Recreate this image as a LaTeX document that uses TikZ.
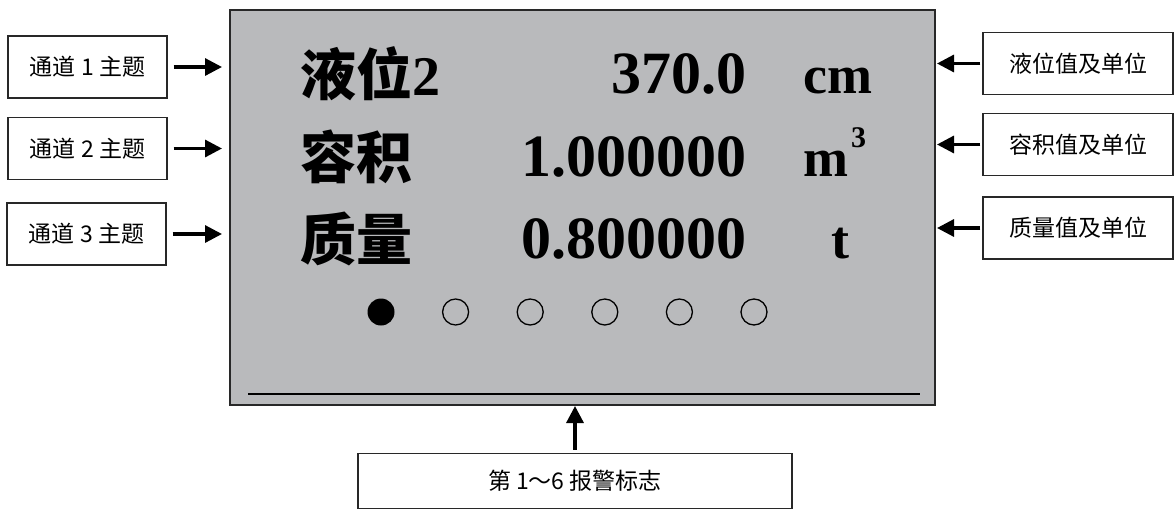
\documentclass[tikz,border=0pt]{standalone}
\usepackage{fontspec}
\setmainfont{Liberation Serif}
\newfontfamily\cjk{Noto Sans CJK SC}
\usepackage{tikz}
\usetikzlibrary{arrows.meta,positioning,calc}
\definecolor{lcdgray}{RGB}{185,186,188}
\definecolor{framegray}{RGB}{40,40,40}

\begin{document}
\begin{tikzpicture}[x=1pt, y=-1pt,
  tag/.style={draw=framegray, line width=1.4pt, fill=white, inner sep=0pt,
    minimum height=62pt, font=\cjk\fontsize{23pt}{23pt}\selectfont},
  pointer/.style={-{Triangle[length=17pt,width=17pt]}, line width=3.2pt},
  title/.style={anchor=base west, inner sep=0pt,
    font=\cjk\bfseries\fontsize{56pt}{56pt}\selectfont},
  value/.style={anchor=base east, inner sep=0pt,
    font=\bfseries\fontsize{60pt}{60pt}\selectfont},
  unit/.style={anchor=base west, inner sep=0pt,
    font=\bfseries\fontsize{54pt}{54pt}\selectfont}]
  \useasboundingbox (0,0) rectangle (1175,509);

  % LCD screen
  \node[draw=framegray, line width=2pt, fill=lcdgray, inner sep=0pt,
    minimum width=705pt, minimum height=395pt] (lcd) at (582.5,207.5) {};
  \draw[line width=2pt] (248,394) -- (920,394);

  % channel rows
  \node[title] (t1) at (300,95) {液位{\rmfamily 2}};
  \node[title] (t2) at (300,178) {容积};
  \node[title] (t3) at (300,260) {质量};
  \node[value] (v1) at (747,93) {370.0};
  \node[value] (v2) at (747,176) {1.000000};
  \node[value] (v3) at (747,258) {0.800000};
  \node[unit] (u1) at (803,93) {cm};
  \node[unit] (u2) at (803,176)
    {m\hspace{3pt}\raisebox{29pt}{\fontsize{30pt}{30pt}\selectfont 3}};
  \node[unit] (u3) at (831,258) {t};

  % alarm marks
  \fill (381,312) circle[radius=13.5pt];
  \foreach \i in {1,...,5}
    \draw[line width=1.3pt] (381+74.6*\i,312) circle[radius=13pt];

  % left labels
  \node[tag, minimum width=159pt] (l1) at (87.5,67) {通道 1 主题};
  \node[tag, minimum width=159pt] (l2) at (87.5,148.5) {通道 2 主题};
  \node[tag, minimum width=159pt] (l3) at (86.5,234) {通道 3 主题};

  % right labels
  \node[tag, minimum width=190pt] (r1) at (1078,63.5) {液位值及单位};
  \node[tag, minimum width=190pt] (r2) at (1078,144.5) {容积值及单位};
  \node[tag, minimum width=190pt] (r3) at (1078,228) {质量值及单位};

  % bottom label
  \node[tag, minimum width=434pt, minimum height=55pt] (b) at (575,481) {第 1～6 报警标志};

  % arrows
  \foreach \n in {1,2,3} {
    \draw[pointer, shorten <=6pt, shorten >=7pt] (l\n.east) -- (l\n.east -| lcd.west);
    \draw[pointer, shorten <=2pt, shorten >=1pt] (r\n.west) -- (r\n.west -| lcd.east);
  }
  \draw[pointer, shorten <=3pt] (b.north) -- (b.north |- lcd.south);
\end{tikzpicture}
\end{document}
